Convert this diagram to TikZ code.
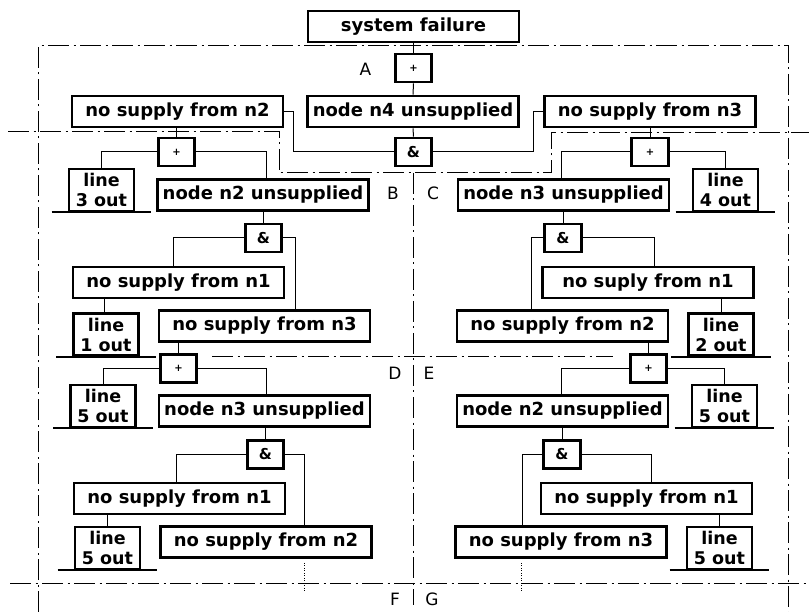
\documentclass[tikz,border=0pt]{standalone}
\usepackage{fontspec}
\setmainfont{DejaVu Sans}
\begin{document}
\begin{tikzpicture}[x=1pt,y=-1pt,
  box/.style={draw, line width=2.7pt, minimum width=211pt, minimum height=31pt, inner sep=0pt,
    font=\fontsize{18}{21}\selectfont\bfseries},
  gate/.style={draw, line width=2.7pt, minimum width=36.5pt, minimum height=28pt, inner sep=0pt},
  orgate/.style={gate, font=\fontsize{10}{12}\selectfont\bfseries},
  andgate/.style={gate, font=\fontsize{15}{18}\selectfont\bfseries},
  linebox/.style={draw, line width=2.7pt, minimum width=65pt, minimum height=42pt, inner sep=0pt,
    align=center, font=\fontsize{17.5}{20}\selectfont\bfseries},
  wire/.style={line width=1pt},
  ground/.style={line width=2pt},
  frame/.style={line width=1pt, dash pattern=on 21pt off 4.5pt on 2pt off 4.5pt},
  zone/.style={font=\fontsize{17}{20}\selectfont},
  dotline/.style={line width=1pt, dash pattern=on 1pt off 1.5pt},
]
\fill[white] (0,0) rectangle (809,612);
\useasboundingbox (0,0) rectangle (809,612);

% zone boundaries
\draw[frame] (38,612) -- (38,46) -- (788,46) -- (788,612);
\draw[frame] (8,132) -- (279,132) -- (279,173) -- (551,173) -- (551,133) -- (809,133);
\draw[frame] (413,173) -- (413,605);
\draw[frame] (212,357) -- (613,357);
\draw[frame] (10,583) -- (809,583);

% top level
\node[box] (top) at (413.5,26.5) {system failure};
\node[orgate] (gA) at (413.5,68) {+};
\node[box] (n4) at (413,111.5) {node n4 unsupplied};
\node[andgate] (gA2) at (413.5,152) {\&};
\node[box] (sn2) at (177.5,111.5) {no supply from n2};
\node[box] (sn3) at (650,111.5) {no supply from n3};

% left branch
\node[orgate] (gB1) at (176.5,152) {+};
\node[linebox] (l3) at (101.5,190) {line\\3 out};
\node[box] (n2u) at (263,195) {node n2 unsupplied};
\node[andgate] (gB2) at (263.5,238) {\&};
\node[box] (bn1) at (178.5,282.5) {no supply from n1};
\node[linebox] (l1) at (106,334.5) {line\\1 out};
\node[box] (bn3) at (264.5,326) {no supply from n3};
\node[orgate] (gD1) at (178.5,368.5) {+};
\node[linebox] (l5a) at (103,406) {line\\5 out};
\node[box] (n3u) at (264.5,411) {node n3 unsupplied};
\node[andgate] (gD2) at (265.5,454.5) {\&};
\node[box] (dn1) at (179.5,498.5) {no supply from n1};
\node[linebox] (l5b) at (107.5,548) {line\\5 out};
\node[box] (dn2) at (266,542) {no supply from n2};

% right branch
\node[orgate] (gC1) at (650,152) {+};
\node[box] (cn3u) at (563.5,195) {node n3 unsupplied};
\node[linebox] (l4) at (725.5,190) {line\\4 out};
\node[andgate] (gC2) at (563,238) {\&};
\node[box] (cn1) at (648,282.5) {no suply from n1};
\node[linebox] (l2) at (721,334.5) {line\\2 out};
\node[box] (cn2) at (562.5,326) {no supply from n2};
\node[orgate] (gE1) at (648.5,368.5) {+};
\node[box] (en2u) at (562.5,411) {node n2 unsupplied};
\node[linebox] (l5c) at (724.5,406) {line\\5 out};
\node[andgate] (gE2) at (562,454.5) {\&};
\node[box] (en1) at (646.5,498.5) {no supply from n1};
\node[linebox] (l5d) at (719.5,548) {line\\5 out};
\node[box] (en3) at (561,542) {no supply from n3};

% zone labels
\node[zone] (zA) at (365.5,69) {A};
\node[zone] (zB) at (393,193) {B};
\node[zone] (zC) at (433,193) {C};
\node[zone] (zD) at (395,373) {D};
\node[zone] (zE) at (429,373) {E};
\node[zone] (zF) at (395,599) {F};
\node[zone] (zG) at (432,599) {G};

% connectors, top level
\draw[wire] (top.south) -- (gA.north);
\draw[wire] (gA.south) -- (n4.north);
\draw[wire] (n4.south) -- (gA2.north);
\draw[wire] (sn2.east) -- ++(9,0) |- (gA2.west);
\draw[wire] (sn3.west) -- ++(-10,0) |- (gA2.east);
\draw[wire] (gB1.north |- sn2.south) -- (gB1.north);
\draw[wire] (gC1.north |- sn3.south) -- (gC1.north);

% connectors, left branch
\draw[wire] (gB1.west) -| (l3.north);
\draw[wire] (gB1.east) -| ([xshift=3pt]n2u.north);
\draw[wire] (gB2.north |- n2u.south) -- (gB2.north);
\draw[wire] (gB2.west) -| ([xshift=-5.5pt]bn1.north);
\draw[wire] (gB2.east) -| ([xshift=30.5pt]bn3.north);
\draw[wire] ([xshift=-2pt]l1.north |- bn1.south) -- ([xshift=-2pt]l1.north);
\draw[wire] (gD1.north |- bn3.south) -- (gD1.north);
\draw[wire] (gD1.west) -| (l5a.north);
\draw[wire] (gD1.east) -| ([xshift=1.5pt]n3u.north);
\draw[wire] (gD2.north |- n3u.south) -- (gD2.north);
\draw[wire] (gD2.west) -| ([xshift=-3.5pt]dn1.north);
\draw[wire] (gD2.east) -| ([xshift=38pt]dn2.north);
\draw[wire] (l5b.north |- dn1.south) -- (l5b.north);
\coordinate (contL) at ([xshift=38pt,yshift=-4pt]dn2.south);
\draw[dotline] (contL) -- ++(0,29);

% connectors, right branch
\draw[wire] (gC1.west) -| ([xshift=-2.5pt]cn3u.north);
\draw[wire] (gC1.east) -| (l4.north);
\draw[wire] (gC2.north |- cn3u.south) -- (gC2.north);
\draw[wire] (gC2.west) -| ([xshift=-31.5pt]cn2.north);
\draw[wire] (gC2.east) -| ([xshift=6pt]cn1.north);
\draw[wire] (l2.north |- cn1.south) -- (l2.north);
\draw[wire] (gE1.north |- cn2.south) -- (gE1.north);
\draw[wire] (gE1.west) -| ([xshift=-1.5pt]en2u.north);
\draw[wire] (gE1.east) -| (l5c.north);
\draw[wire] (gE2.north |- en2u.south) -- (gE2.north);
\draw[wire] (gE2.west) -| ([xshift=-39pt]en3.north);
\draw[wire] (gE2.east) -| ([xshift=4.5pt]en1.north);
\draw[wire] (l5d.north |- en1.south) -- (l5d.north);
\coordinate (contR) at ([xshift=-40pt,yshift=-4pt]en3.south);
\draw[dotline] (contR) -- ++(0,29);

% ground bars under line outages
\foreach \n in {l3,l1,l5a,l5b,l4,l2,l5c,l5d}
  \draw[ground] ([xshift=-16pt]\n.south west) -- ([xshift=16pt]\n.south east);
\end{tikzpicture}
\end{document}
